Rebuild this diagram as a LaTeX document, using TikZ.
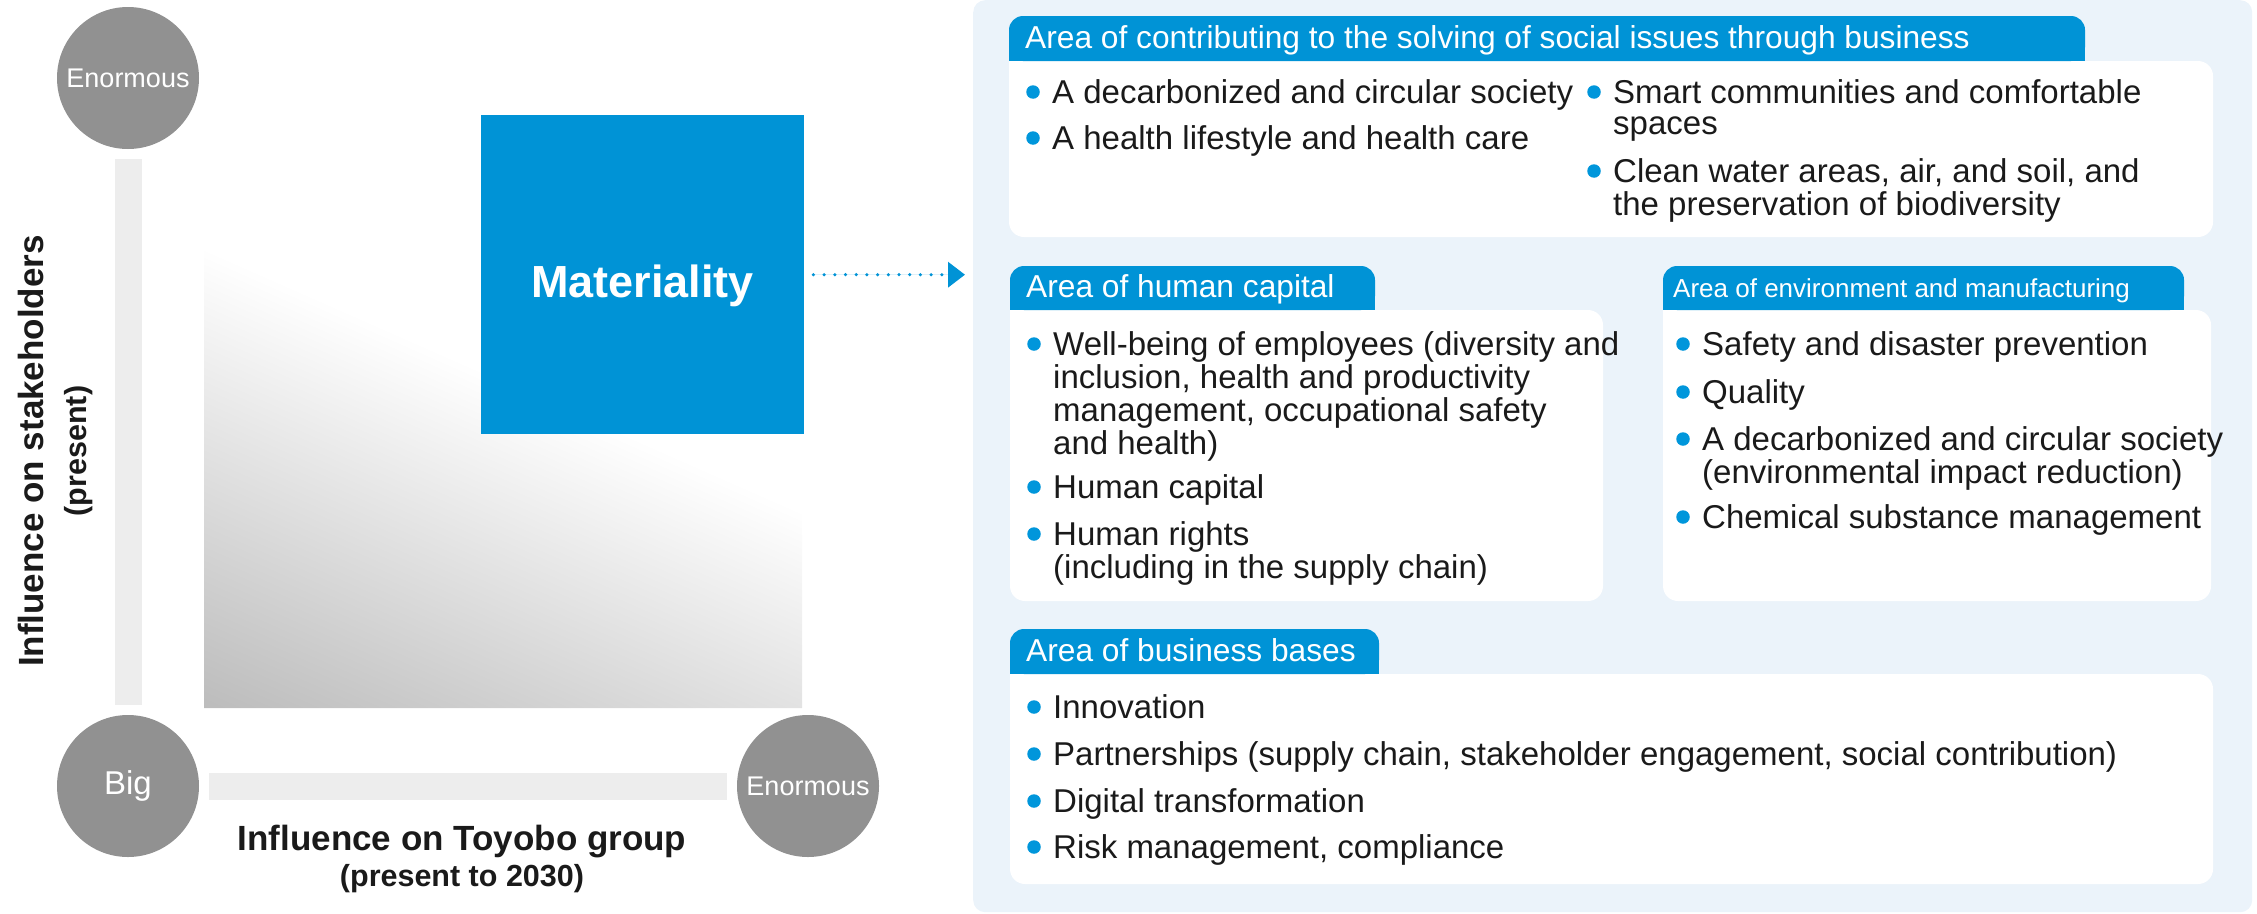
\documentclass[tikz,border=0pt]{standalone}
\usepackage{fontspec}
\setmainfont{Liberation Sans}
\usetikzlibrary{arrows.meta}

\definecolor{areablue}{RGB}{0,147,214}
\definecolor{bullblue}{RGB}{0,150,219}
\definecolor{panelblue}{RGB}{235,243,250}
\definecolor{dotgray}{RGB}{145,145,145}
\definecolor{bargray}{RGB}{237,237,237}
\definecolor{fadegray}{RGB}{188,188,188}
\definecolor{inkcol}{RGB}{26,26,26}

% header tab: [text pad]{name}{x1}{y1}{x2}{y2}{text}
\newcommand{\areahead}[7][16]{%
  \fill[head box] (#3,#4) rectangle (#5,#6);
  \fill[areablue] (#3,#4+20) rectangle (#5,#6);
  \node[head text] (#2) at (#3+#1,#6-13) {#7};
}
% bullet item: {name}{x}{y}{text}, y is the first baseline
\newcommand{\areaitem}[4]{%
  \node[item dot] (#1dot) at (#2-19,#3-11) {};
  \node[item text] (#1) at (#2,#3) {\begin{tabular}[t]{@{}l@{}}#4\end{tabular}};
}

\begin{document}
\begin{tikzpicture}[>={Triangle[length=17bp,width=25bp]},line join=bevel,x=1bp,y=-1bp,
  rate circle/.style={circle,fill=dotgray,text=white,minimum size=142bp,inner sep=0pt,
    font=\fontsize{27bp}{27bp}\selectfont},
  axis bar/.style={draw=bargray,line width=27bp,shorten <=10bp,shorten >=10bp},
  axis label/.style={anchor=base,inner sep=0pt,text=inkcol,font=\bfseries\fontsize{35bp}{37bp}\selectfont},
  axis note/.style={anchor=base,inner sep=0pt,text=inkcol,font=\bfseries\fontsize{30.5bp}{32bp}\selectfont},
  mat box/.style={rectangle,fill=areablue,text=white,minimum width=323bp,minimum height=319bp,
    inner sep=0pt,text height=45bp,text depth=0pt,font=\bfseries\fontsize{45bp}{45bp}\selectfont},
  mat arrow/.style={->,draw=areablue,fill=areablue,line width=3.5bp,line cap=round,
    dash pattern=on 0bp off 10.7bp,shorten <=9bp,shorten >=8bp},
  panel box/.style={rectangle,fill=panelblue,rounded corners=12bp,inner sep=0pt},
  item box/.style={fill=white,rounded corners=15bp},
  head box/.style={fill=areablue,rounded corners=14bp},
  head text/.style={anchor=base west,inner sep=0pt,text=white,font=\fontsize{31.7bp}{34bp}\selectfont},
  item text/.style={anchor=base west,inner sep=0pt,text=inkcol,
    font=\fontsize{33bp}{31bp}\selectfont},
  item dot/.style={circle,fill=bullblue,minimum size=13.5bp,inner sep=0pt},
]
\useasboundingbox (0,0) rectangle (2257,913);
%%
% Node: fade area
\begin{scope}
  \clip (204,247) -- (802,511) -- (802,708) -- (204,708) -- cycle;
  \begin{scope}[transform canvas={rotate around={-23.8:(204,247)}}]
    \shade[top color=white,bottom color=fadegray] (150,247) rectangle (1000,669);
  \end{scope}
\end{scope}
% Node: materiality
\node[mat box,anchor=north west] (mat) at (481,115) {Materiality};
% Node: rating circles
\node[rate circle] (stkE) at (128,78) {Enormous};
\node[rate circle,font=\fontsize{33bp}{33bp}\selectfont] (big) at (128,786) {Big};
\node[rate circle] (grpE) at (808,786) {Enormous};
% Edge: axes
\draw[axis bar] (stkE) -- (big);
\draw[axis bar] (big) -- (grpE);
\node[axis label,rotate=90] (stkL) at (43,451) {Influence on stakeholders};
\node[axis note,rotate=90] (stkN) at (86,451) {(present)};
\node[axis label] (grpL) at (462,850) {Influence on Toyobo group};
\node[axis note] (grpN) at (462,886) {(present to 2030)};
%
% Node: panel
\node[panel box,minimum width=1279bp,minimum height=912bp,anchor=north west] (panel) at (973,0) {};
% Edge: mat -> panel
\draw[mat arrow] (mat.east) -- (mat.east -| panel.west);
%
% Node: social issues area
\fill[item box] (1009,61) rectangle (2213,237);
\fill[white] (1009,61) rectangle (1040,92);
\areahead{hcontrib}{1009}{16}{2085}{61}{Area of contributing to the solving of social issues through business}
\areaitem{c1}{1052}{103}{A decarbonized and circular society}
\areaitem{c2}{1052}{149}{A health lifestyle and health care}
\areaitem{c3}{1613}{103}{Smart communities and comfortable\\spaces}
\areaitem{c4}{1613}{182}{Clean water areas, air, and soil, and\\the preservation of biodiversity}
% Node: human capital area
\fill[item box] (1010,310) rectangle (1603,601);
\fill[white] (1010,310) rectangle (1040,340);
\areahead{hhuman}{1010}{266}{1375}{310}{Area of human capital}
\areaitem{h1}{1053}{355}{Well-being of employees (diversity and\\inclusion, health and productivity\\management, occupational safety\\and health)}
\areaitem{h2}{1053}{498}{Human capital}
\areaitem{h3}{1053}{545}{Human rights\\(including in the supply chain)}
% Node: environment area
\fill[item box] (1663,310) rectangle (2211,601);
\fill[white] (1663,310) rectangle (1693,340);
\areahead[10]{henv}{1663}{266}{2184}{310}{\fontsize{26bp}{28bp}\selectfont Area of environment and manufacturing}
\areaitem{e1}{1702}{355}{Safety and disaster prevention}
\areaitem{e2}{1702}{403}{Quality}
\areaitem{e3}{1702}{450}{A decarbonized and circular society\\(environmental impact reduction)}
\areaitem{e4}{1702}{528}{Chemical substance management}
% Node: business bases area
\fill[item box] (1010,674) rectangle (2213,884);
\fill[white] (1010,674) rectangle (1040,704);
\areahead{hbiz}{1010}{629}{1379}{674}{Area of business bases}
\areaitem{b1}{1053}{718}{Innovation}
\areaitem{b2}{1053}{765}{Partnerships (supply chain, stakeholder engagement, social contribution)}
\areaitem{b3}{1053}{812}{Digital transformation}
\areaitem{b4}{1053}{858}{Risk management, compliance}
%
\end{tikzpicture}
\end{document}
